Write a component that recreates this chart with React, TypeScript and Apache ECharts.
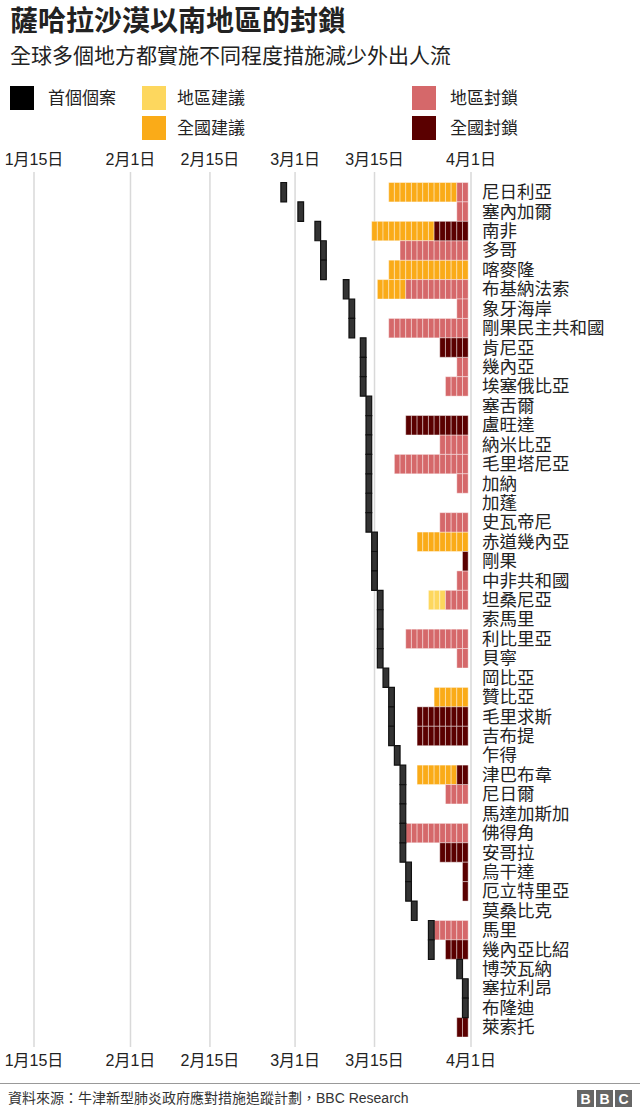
import React, { useEffect, useRef } from 'react';
import * as echarts from 'echarts';

const FONT = "'Liberation Sans', 'Noto Sans CJK TC', sans-serif";

const countries = [
  '尼日利亞', '塞內加爾', '南非', '多哥', '喀麥隆', '布基納法索', '象牙海岸', '剛果民主共和國',
  '肯尼亞', '幾內亞', '埃塞俄比亞', '塞舌爾', '盧旺達', '納米比亞', '毛里塔尼亞', '加納',
  '加蓬', '史瓦帝尼', '赤道幾內亞', '剛果', '中非共和國', '坦桑尼亞', '索馬里', '利比里亞',
  '貝寧', '岡比亞', '贊比亞', '毛里求斯', '吉布提', '乍得', '津巴布韋', '尼日爾',
  '馬達加斯加', '佛得角', '安哥拉', '烏干達', '厄立特里亞', '莫桑比克', '馬里', '幾內亞比紹',
  '博茨瓦納', '塞拉利昂', '布隆迪', '萊索托',
];

// date of first case (month-day, 2020); null = none
const firstCase: (string | null)[] = [
  '2-28', '3-2', '3-5', '3-6', '3-6', '3-10', '3-11', '3-11',
  '3-13', '3-13', '3-13', '3-14', '3-14', '3-14', '3-14', '3-14',
  '3-14', '3-14', '3-15', '3-15', '3-15', '3-16', '3-16', '3-16',
  '3-16', '3-17', '3-18', '3-18', '3-18', '3-19', '3-20', '3-20',
  '3-20', '3-20', '3-20', '3-21', '3-21', '3-22', '3-25', '3-25',
  '3-30', '3-31', '3-31', null,
];

const tickDates = ['1-15', '2-1', '2-15', '3-1', '3-15', '4-1'];
const tickLabels = ['1月15日', '2月1日', '2月15日', '3月1日', '3月15日', '4月1日'];

const levelNames = ['地區建議', '全國建議', '地區封鎖', '全國封鎖'];
const levelColors = ['#FDD75E', '#FAAB18', '#D5686A', '#5A0000'];

// [country, from, to, level index]
const measures: [string, string, string, number][] = [
  ['尼日利亞', '3-18', '3-29', 1], ['尼日利亞', '3-30', '3-31', 2],
  ['塞內加爾', '3-30', '3-31', 2],
  ['南非', '3-15', '3-25', 1], ['南非', '3-26', '3-31', 3],
  ['多哥', '3-20', '3-31', 2],
  ['喀麥隆', '3-18', '3-31', 1],
  ['布基納法索', '3-16', '3-20', 1], ['布基納法索', '3-21', '3-31', 2],
  ['象牙海岸', '3-30', '3-31', 2],
  ['剛果民主共和國', '3-18', '3-31', 2],
  ['肯尼亞', '3-27', '3-31', 3],
  ['幾內亞', '3-30', '3-31', 2],
  ['埃塞俄比亞', '3-28', '3-31', 2],
  ['盧旺達', '3-21', '3-31', 3],
  ['納米比亞', '3-27', '3-31', 2],
  ['毛里塔尼亞', '3-19', '3-31', 2],
  ['加納', '3-30', '3-31', 2],
  ['史瓦帝尼', '3-27', '3-31', 2],
  ['赤道幾內亞', '3-23', '3-31', 1],
  ['剛果', '3-31', '3-31', 3],
  ['中非共和國', '3-30', '3-31', 2],
  ['坦桑尼亞', '3-25', '3-27', 0], ['坦桑尼亞', '3-28', '3-31', 2],
  ['利比里亞', '3-21', '3-31', 2],
  ['貝寧', '3-30', '3-31', 2],
  ['贊比亞', '3-26', '3-31', 1],
  ['毛里求斯', '3-23', '3-31', 3],
  ['吉布提', '3-23', '3-31', 3],
  ['津巴布韋', '3-23', '3-29', 1], ['津巴布韋', '3-30', '3-31', 3],
  ['尼日爾', '3-28', '3-31', 2],
  ['佛得角', '3-21', '3-31', 2],
  ['安哥拉', '3-27', '3-31', 3],
  ['烏干達', '3-31', '3-31', 3],
  ['厄立特里亞', '3-31', '3-31', 3],
  ['馬里', '3-26', '3-31', 2],
  ['幾內亞比紹', '3-28', '3-31', 3],
  ['萊索托', '3-30', '3-31', 3],
];

const monthStart: Record<number, number> = { 1: 0, 2: 31, 3: 60, 4: 91 };
function dayIndex(md: string): number {
  const [m, d] = md.split('-').map(Number);
  return monthStart[m] + d - 15;
}

const GRID_LEFT = 34;
const GRID_RIGHT = 169;
const GRID_TOP = 182.5;
const GRID_HEIGHT = 854.5;

export default function App() {
  const ref = useRef<HTMLDivElement>(null);

  useEffect(() => {
    document.body.style.margin = '0';
    const chart = echarts.init(ref.current!, null, { renderer: 'svg' });

    const tickDays = tickDates.map(dayIndex);
    const labelMap: Record<number, string> = {};
    tickDays.forEach((d, i) => (labelMap[d] = tickLabels[i]));

    const firstData = firstCase
      .map((d, i) => (d ? [dayIndex(d), i] : null))
      .filter((x) => x !== null);

    const levelSeries = levelNames.map((name, li) => ({
      type: 'custom',
      name,
      xAxisIndex: 0,
      yAxisIndex: 0,
      itemStyle: { color: levelColors[li] },
      encode: { x: [0, 1], y: 2 },
      data: measures
        .filter((m) => m[3] === li)
        .map((m) => [dayIndex(m[1]), dayIndex(m[2]), countries.indexOf(m[0])]),
      clip: false,
      silent: true,
      z: 3,
      renderItem: (params: any, api: any) => {
        const from = api.value(0);
        const to = api.value(1);
        const row = api.value(2);
        const size = api.size([1, 1]);
        const children: any[] = [];
        for (let d = from; d <= to; d++) {
          const c = api.coord([d, row]);
          children.push({
            type: 'rect',
            shape: { x: c[0] - size[0] / 2, y: c[1] - size[1] / 2, width: size[0], height: size[1] },
            style: { fill: levelColors[li], stroke: 'rgba(255,255,255,0.4)', lineWidth: 1 },
          });
        }
        return { type: 'group', children };
      },
    }));

    const axisLabelCommon = {
      fontSize: 16,
      color: '#222',
      fontFamily: FONT,
      customValues: tickDays,
      formatter: (v: number) => labelMap[Math.round(v)] ?? '',
      showMinLabel: true,
      showMaxLabel: true,
    };

    const option: any = {
      animation: false,
      textStyle: { fontFamily: FONT },
      title: [
        {
          text: '薩哈拉沙漠以南地區的封鎖',
          left: 10,
          top: 7,
          padding: 0,
          textStyle: { fontSize: 28, fontWeight: 'bold', color: '#222', fontFamily: FONT },
        },
        {
          text: '全球多個地方都實施不同程度措施減少外出人流',
          left: 10,
          top: 45,
          padding: 0,
          textStyle: { fontSize: 21, fontWeight: 'normal', color: '#222', fontFamily: FONT },
        },
      ],
      legend: [
        {
          left: 10, top: 86, padding: 0, selectedMode: false,
          itemWidth: 24, itemHeight: 24, icon: 'rect',
          data: [{ name: '首個個案', itemStyle: { color: '#000', borderWidth: 0 } }],
          textStyle: { fontSize: 17, color: '#222', fontFamily: FONT, padding: [0, 0, 0, 9] },
        },
        {
          left: 142, top: 86, padding: 0, orient: 'vertical', itemGap: 6, selectedMode: false,
          itemWidth: 24, itemHeight: 24, icon: 'rect',
          data: [
            { name: '地區建議', itemStyle: { color: levelColors[0] } },
            { name: '全國建議', itemStyle: { color: levelColors[1] } },
          ],
          textStyle: { fontSize: 17, color: '#222', fontFamily: FONT, padding: [0, 0, 0, 6] },
        },
        {
          left: 412, top: 86, padding: 0, orient: 'vertical', itemGap: 6, selectedMode: false,
          itemWidth: 24, itemHeight: 24, icon: 'rect',
          data: [
            { name: '地區封鎖', itemStyle: { color: levelColors[2] } },
            { name: '全國封鎖', itemStyle: { color: levelColors[3] } },
          ],
          textStyle: { fontSize: 17, color: '#222', fontFamily: FONT, padding: [0, 0, 0, 9] },
        },
      ],
      grid: { left: GRID_LEFT, right: GRID_RIGHT, top: GRID_TOP, height: GRID_HEIGHT },
      xAxis: [
        {
          type: 'value', position: 'top', min: 0, max: 77,
          axisLine: { show: false }, axisTick: { show: false }, splitLine: { show: false },
          axisLabel: { ...axisLabelCommon, margin: 15 },
        },
        {
          type: 'value', position: 'bottom', min: 0, max: 77,
          axisLine: { show: false }, axisTick: { show: false }, splitLine: { show: false },
          axisLabel: { ...axisLabelCommon, margin: 15 },
        },
      ],
      yAxis: {
        type: 'category',
        data: countries,
        inverse: true,
        position: 'right',
        axisLine: { show: false },
        axisTick: { show: false },
        splitLine: { show: false },
        axisLabel: { fontSize: 17.5, color: '#222', fontFamily: FONT, margin: 11, align: 'left', interval: 0 },
      },
      series: [
        {
          type: 'custom',
          name: 'gridlines',
          data: tickDays.map((d) => [d]),
          encode: { x: 0 },
          clip: false,
          silent: true,
          z: 1,
          renderItem: (params: any, api: any) => {
            const cs = params.coordSys;
            const x = api.coord([api.value(0), 0])[0];
            return {
              type: 'line',
              shape: { x1: x, y1: cs.y - 10.5, x2: x, y2: cs.y + cs.height + 10 },
              style: { stroke: '#d9d9d9', lineWidth: 1.5 },
            };
          },
        },
        {
          type: 'custom',
          name: '首個個案',
          itemStyle: { color: '#000' },
          encode: { x: 0, y: 1 },
          data: firstData,
          clip: false,
          silent: true,
          z: 4,
          renderItem: (params: any, api: any) => {
            const c = api.coord([api.value(0), api.value(1)]);
            const size = api.size([1, 1]);
            return {
              type: 'rect',
              shape: { x: c[0] - size[0] / 2, y: c[1] - size[1] / 2, width: size[0], height: size[1] },
              style: { fill: '#333', stroke: '#111', lineWidth: 1.2 },
            };
          },
        },
        ...levelSeries,
      ],
      graphic: [
        { type: 'line', shape: { x1: 0, y1: 1083.5, x2: 640, y2: 1083.5 }, style: { stroke: '#999', lineWidth: 1 } },
        {
          type: 'text', x: 8, y: 1098,
          style: {
            text: '資料來源：牛津新型肺炎政府應對措施追蹤計劃，BBC Research',
            fontSize: 14, fill: '#333', fontFamily: FONT, verticalAlign: 'middle',
          },
        },
        ...['B', 'B', 'C'].flatMap((ch, i) => [
          { type: 'rect', shape: { x: 577 + i * 19, y: 1090, width: 17, height: 17 }, style: { fill: '#666' } },
          {
            type: 'text', x: 577 + i * 19 + 8.5, y: 1098.5,
            style: { text: ch, fontSize: 14, fontWeight: 'bold', fill: '#fff', fontFamily: FONT, align: 'center', verticalAlign: 'middle' },
          },
        ]),
      ],
    };

    chart.setOption(option);
    return () => chart.dispose();
  }, []);

  return <div ref={ref} style={{ width: 640, height: 1112 }} />;
}
